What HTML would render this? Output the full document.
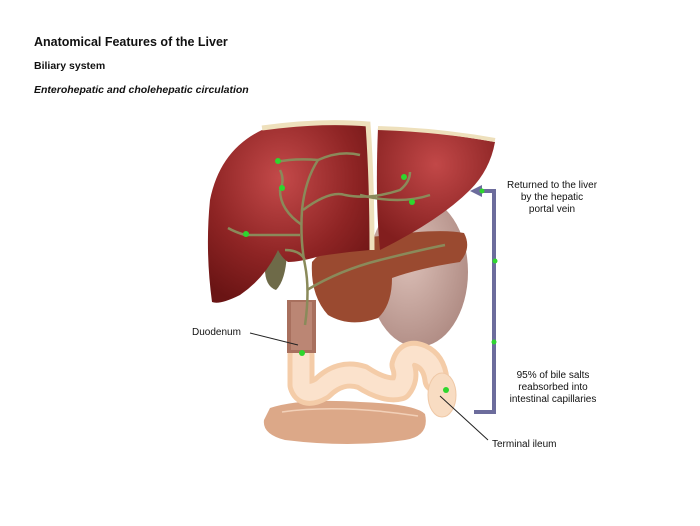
<!DOCTYPE html>
<html><head><meta charset="utf-8"><style>
html,body{margin:0;padding:0;background:#fff;}
svg{display:block;font-family:"Liberation Sans",Arial,sans-serif;}
</style></head><body>
<svg width="700" height="526" viewBox="0 0 700 526" xmlns="http://www.w3.org/2000/svg">
<defs>
<radialGradient id="liv" cx="0.45" cy="0.3" r="0.75"><stop offset="0" stop-color="#c44a4a"/><stop offset="0.6" stop-color="#8e2424"/><stop offset="1" stop-color="#6a1414"/></radialGradient>
<radialGradient id="liv2" cx="0.5" cy="0.3" r="0.7"><stop offset="0" stop-color="#c24848"/><stop offset="1" stop-color="#821e1e"/></radialGradient>
<radialGradient id="stom" cx="0.4" cy="0.4" r="0.65"><stop offset="0" stop-color="#dcc0b8"/><stop offset="1" stop-color="#b08c84"/></radialGradient>
</defs>
<rect width="700" height="526" fill="#fff"/>
<text x="34" y="46" font-size="12.5" font-weight="bold" fill="#111">Anatomical Features of the Liver</text>
<text x="34" y="69" font-size="10.5" font-weight="bold" fill="#111">Biliary system</text>
<text x="34" y="93" font-size="10.5" font-weight="bold" font-style="italic" fill="#111">Enterohepatic and cholehepatic circulation</text>

<!-- stomach -->
<ellipse cx="418" cy="272" rx="50" ry="75" fill="url(#stom)"/>
<!-- large intestine -->
<path d="M270 408 Q300 398 360 402 Q415 404 425 414 Q430 436 405 440 Q350 448 285 440 Q262 434 264 420 Z" fill="#dca888"/>
<path d="M282 412 Q340 404 418 416" stroke="#f2d0b8" stroke-width="1.5" fill="none"/>
<!-- small intestine -->
<path d="M301 355 L301 385 Q305 398 322 388 Q340 370 362 377 Q385 392 400 388 Q408 378 403 365 Q407 350 421 356 Q434 362 436 380" stroke="#f4cca8" stroke-width="27" fill="none" stroke-linecap="round" stroke-linejoin="round"/>
<path d="M301 355 L301 385 Q305 398 322 388 Q340 370 362 377 Q385 392 400 388 Q408 378 403 365 Q407 350 421 356 Q434 362 436 380" stroke="#fbe2cc" stroke-width="17" fill="none" stroke-linecap="round" stroke-linejoin="round"/>
<ellipse cx="442" cy="395" rx="14" ry="22" fill="#f8dcc2" stroke="#efc8a6"/>
<!-- duodenum -->
<rect x="287" y="300" width="29" height="53" fill="#a8705e"/>
<rect x="291" y="302" width="21" height="48" fill="#bb8674"/>
<!-- pancreas -->
<path d="M312 262 Q330 240 380 236 Q440 228 464 233 Q472 248 460 262 Q420 268 392 278 Q392 305 378 318 Q350 328 328 315 Q310 295 312 262 Z" fill="#9a4a30"/>
<!-- gallbladder -->
<path d="M270 245 Q284 240 287 252 Q286 280 276 290 Q264 286 265 265 Z" fill="#6e6a48"/>
<!-- liver left lobe -->
<path d="M262 130 Q320 122 368 126 Q372 180 370 250 Q345 252 320 256 Q300 262 288 262 Q282 258 278 250 Q265 278 240 295 Q220 305 212 302 Q205 250 210 200 Q220 150 262 130 Z" fill="url(#liv)"/>
<!-- liver right lobe -->
<path d="M378 128 Q440 132 495 142 Q490 170 470 190 Q440 220 380 250 Q375 200 378 128 Z" fill="url(#liv2)"/>
<!-- ligament -->
<path d="M262 128 Q320 120 368 124 Q372 180 372 250" stroke="#eee0bc" stroke-width="5" fill="none"/>
<path d="M378 128 Q440 130 495 140" stroke="#eee0bc" stroke-width="4" fill="none"/>
<!-- bile ducts -->
<g stroke="#8a8a5a" stroke-width="2.5" fill="none">
<path d="M305 325 Q310 290 305 265 Q300 240 302 210 Q305 180 318 160 Q340 150 360 155"/>
<path d="M318 160 Q295 158 276 162 M280 190 Q285 180 280 170"/>
<path d="M302 225 Q280 210 280 190 M300 235 Q270 235 245 235 Q235 232 228 228"/>
<path d="M303 210 Q330 190 345 195 Q370 200 400 190 Q410 182 410 172"/>
<path d="M360 195 Q400 205 430 195"/>
<path d="M307 290 Q340 270 380 260 Q420 250 445 245"/>
<path d="M305 260 Q300 250 285 250"/>
</g>
<g fill="#2ed62e">
<circle cx="278" cy="161" r="3"/><circle cx="282" cy="188" r="3"/><circle cx="246" cy="234" r="3"/><circle cx="404" cy="177" r="3"/><circle cx="412" cy="202" r="3"/><circle cx="302" cy="353" r="3"/><circle cx="446" cy="390" r="3"/>
</g>
<!-- bracket -->
<path d="M480 191 L494 191 L494 412 L474 412" stroke="#6c6c9c" stroke-width="4" fill="none"/>
<polygon points="470,191 482,185 482,197" fill="#6c6c9c"/>
<g fill="#2ed62e"><circle cx="482" cy="191" r="2.5"/><circle cx="495" cy="261" r="2.5"/><circle cx="494" cy="342" r="2.5"/></g>
<!-- labels -->
<line x1="250" y1="333" x2="298" y2="345" stroke="#222" stroke-width="1"/>
<text x="192" y="335" font-size="10" fill="#111">Duodenum</text>
<line x1="440" y1="396" x2="488" y2="440" stroke="#222" stroke-width="1"/>
<text x="492" y="447" font-size="10" fill="#111">Terminal ileum</text>
<g font-size="10" fill="#111" text-anchor="middle">
<text x="552" y="188">Returned to the liver</text>
<text x="552" y="200">by the hepatic</text>
<text x="552" y="212">portal vein</text>
<text x="553" y="378">95% of bile salts</text>
<text x="553" y="390">reabsorbed into</text>
<text x="553" y="402">intestinal capillaries</text>
</g>
</svg>
</body></html>
